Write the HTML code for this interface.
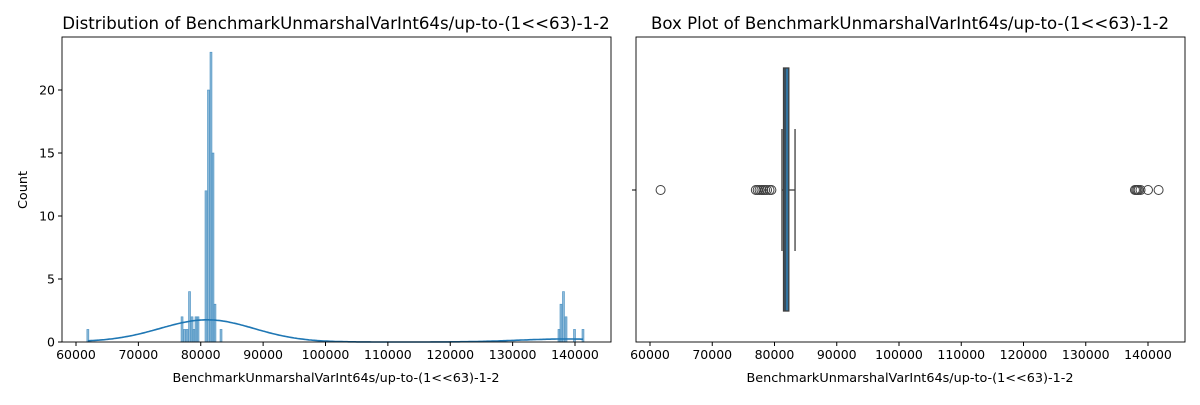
<!DOCTYPE html>
<html><head><meta charset="utf-8"><style>
body{margin:0;background:#fff;font-family:"Liberation Sans","DejaVu Sans",sans-serif}
svg text{font-family:"DejaVu Sans","Liberation Sans",sans-serif}
</style></head><body>
<svg id="c" width="1200" height="400" xmlns="http://www.w3.org/2000/svg"></svg>
<script>
const binCenters=[61900,77000,77400,77800,78200,78600,78900,79240,79560,80840,81240,81640,81960,82280,83250,137430,137750,138150,138560,139920,141280];
const binCounts=[1,2,1,1,4,2,1,2,2,12,20,23,15,3,1,1,3,4,2,1,1];
const binWidth=320;
const yTicks=[0,5,10,15,20];
const xTicks=[60000,70000,80000,90000,100000,110000,120000,130000,140000];
const boxStats=[81200,81450,81700,82300,83300];
const outliers=[61700,77000,77300,77600,77900,78200,78500,78800,79200,79500,137900,138100,138300,138500,138800,140000,141700];
const title1="Distribution of BenchmarkUnmarshalVarInt64s/up-to-(1<<63)-1-2";
const title2="Box Plot of BenchmarkUnmarshalVarInt64s/up-to-(1<<63)-1-2";
const xlabel="BenchmarkUnmarshalVarInt64s/up-to-(1<<63)-1-2";

const NS="http://www.w3.org/2000/svg";
const svg=document.getElementById('c');
function el(t,a,p){const e=document.createElementNS(NS,t);for(const k in a)e.setAttribute(k,a[k]);(p||svg).appendChild(e);return e;}
function txt(s,a,p){const e=el('text',a,p);e.textContent=s;return e;}

const L={x0:62,x1:611,y0:37,y1:342};
const lx=v=>76+(v-60000)*499/80000;
const ly=c=>342-c*12.6;
const gL=el('g',{});


binCenters.forEach((v,i)=>{
  const r=el('rect',{x:lx(v-binWidth/2),y:ly(binCounts[i]),width:lx(v+binWidth/2)-lx(v-binWidth/2),height:342-ly(binCounts[i]),fill:'rgba(31,119,180,0.5)',stroke:'rgba(31,119,180,0.75)','stroke-width':0.6},gL);
  
  
});
const samples=[];binCenters.forEach((v,i)=>{for(let k=0;k<binCounts[i];k++)samples.push(v);});
const n=samples.length;const mean=samples.reduce((a,b)=>a+b,0)/n;
const sd=Math.sqrt(samples.reduce((a,b)=>a+(b-mean)**2,0)/(n-1));
const bw=sd*Math.pow(n,-0.2);
const mn=Math.min(...samples),mx=Math.max(...samples);
let d='';
for(let i=0;i<=300;i++){const x=mn+(mx-mn)*i/300;let s=0;samples.forEach(v=>{s+=Math.exp(-0.5*((x-v)/bw)**2);});
 const dens=s/(n*bw*Math.sqrt(2*Math.PI));const c=dens*n*375;d+=(i?'L':'M')+lx(x).toFixed(1)+','+ly(c).toFixed(1);}
const kde=el('path',{d:d,fill:'none',stroke:'#1f77b4','stroke-width':1.6},gL);


el('rect',{x:L.x0,y:L.y0,width:L.x1-L.x0,height:L.y1-L.y0,fill:'none',stroke:'#000','stroke-width':0.9});
xTicks.forEach(v=>{el('line',{x1:lx(v),x2:lx(v),y1:342,y2:346,stroke:'#000'});
 const t=txt(v,{x:lx(v),y:359,'font-size':12.5,'text-anchor':'middle'});});
yTicks.forEach(v=>{el('line',{x1:58,x2:62,y1:ly(v),y2:ly(v),stroke:'#000'});
 const t=txt(v,{x:55,y:ly(v)+4.5,'font-size':12.5,'text-anchor':'end'});});
txt(title1,{x:336,y:29,'font-size':16.6,'text-anchor':'middle',});
txt(xlabel,{x:336,y:382,'font-size':12.8,'text-anchor':'middle',});
txt('Count',{x:27,y:190,'font-size':12.8,'text-anchor':'middle',transform:'rotate(-90 27 190)',});

const R={x0:636,x1:1185,y0:37,y1:342};
const rx=v=>650+(v-60000)*498/80000;
const cy=190;
const gR=el('g',{});


el('line',{x1:rx(boxStats[0]),x2:rx(boxStats[1]),y1:cy,y2:cy,stroke:'#3f3f3f','stroke-width':1.3},gR);
el('line',{x1:rx(boxStats[3]),x2:rx(boxStats[4]),y1:cy,y2:cy,stroke:'#3f3f3f','stroke-width':1.3},gR);
el('line',{x1:rx(boxStats[0]),x2:rx(boxStats[0]),y1:129,y2:251,stroke:'#3f3f3f','stroke-width':1.3},gR);
el('line',{x1:rx(boxStats[4]),x2:rx(boxStats[4]),y1:129,y2:251,stroke:'#3f3f3f','stroke-width':1.3},gR);
const box=el('rect',{x:rx(boxStats[1]),y:68,width:rx(boxStats[3])-rx(boxStats[1]),height:243,fill:'#3274a1',stroke:'#3f3f3f','stroke-width':1.3},gR);


el('line',{x1:rx(boxStats[2]),x2:rx(boxStats[2]),y1:68,y2:311,stroke:'#3f3f3f','stroke-width':1.3},gR);
outliers.forEach(v=>{const c=el('circle',{cx:rx(v),cy:cy,r:4.5,fill:'none',stroke:'#3f3f3f','stroke-width':1},gR);
 });
el('rect',{x:R.x0,y:R.y0,width:R.x1-R.x0,height:R.y1-R.y0,fill:'none',stroke:'#000','stroke-width':0.9});
el('line',{x1:632,x2:636,y1:cy,y2:cy,stroke:'#000'});
xTicks.forEach(v=>{el('line',{x1:rx(v),x2:rx(v),y1:342,y2:346,stroke:'#000'});
 const t=txt(v,{x:rx(v),y:359,'font-size':12.5,'text-anchor':'middle'});});
txt(title2,{x:910,y:29,'font-size':16.6,'text-anchor':'middle',});
txt(xlabel,{x:910,y:382,'font-size':12.8,'text-anchor':'middle',});
</script>
</body></html>
